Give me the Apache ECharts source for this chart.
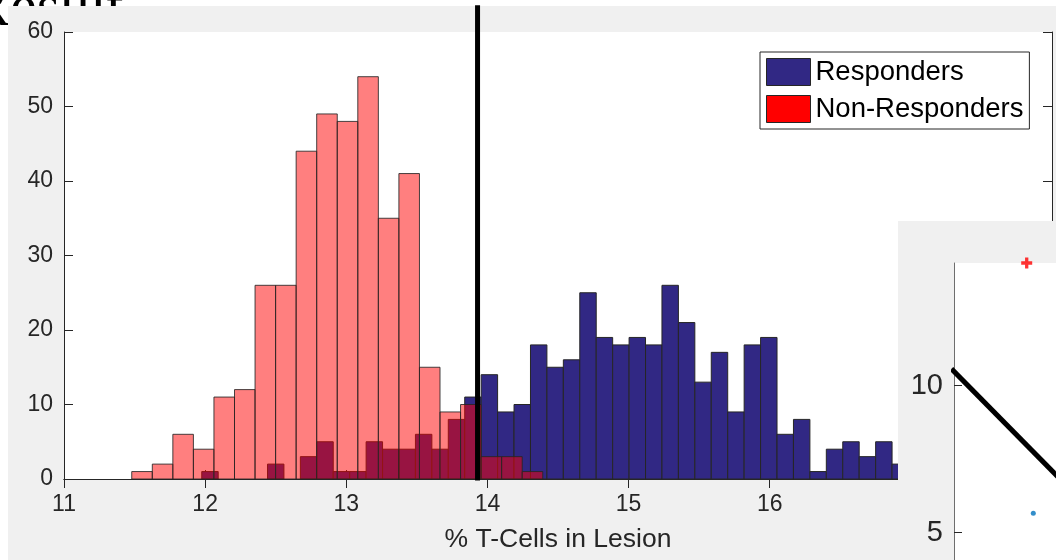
<!DOCTYPE html>
<html><head><meta charset="utf-8">
<script src="https://cdn.jsdelivr.net/npm/echarts@6/dist/echarts.min.js"></script>
<style>html,body{margin:0;padding:0;background:#fff}#c{width:1056px;height:560px}</style>
</head><body><div id="c"></div>
<script>
// ---------------- data ----------------
const seriesNames = ['Responders', 'Non-Responders'];
const xLabel = '% T-Cells in Lesion';
const xTicks = [11, 12, 13, 14, 15, 16, 17, 18];
const yTicks = [0, 10, 20, 30, 40, 50, 60];
// Non-Responders histogram (bin start, bin width, counts)
const redBinStart = 11.48;
const redBinWidth = 0.1456;
const redCounts = [1, 2, 6, 4, 11, 12, 26, 26, 44, 49, 48, 54, 35, 41, 15, 9, 10, 3, 3, 1];
// Responders histogram
const blueBinStart = 11.976;
const blueBinWidth = 0.11645;
const blueCounts = [1, 0, 0, 0, 2, 0, 3, 5, 1, 1, 5, 4, 4, 6, 4, 8, 11,
  14, 9, 10, 18, 15, 16, 25, 19, 18, 19, 18, 26, 21, 13, 17, 9, 18, 19, 6, 8, 1, 4, 5, 3, 5, 2];
const thresholdX = 13.93;
const thresholdY = [-0.2, 63.6];
// inset (partially visible second figure)
const insetYTicks = [5, 10];
const insetXRange = [0, 1.59375];
const insetYRange = [0, 14.17];
const insetLineX = [-0.04, 1.65];
const insetLineY = [10.57, 6.84];
const insetRedPoint = [1.136, 14.17];
const insetBluePoint = [1.239, 5.66];
const titleText = 'Result';

// ---------------- build ----------------
const FONT = "'Liberation Sans', Arial, Helvetica, sans-serif";
const AX = '#262626';
const BLUE = '#312884';
function bins(start, w, counts) {
  return counts.map((c, i) => [start + i * w, start + (i + 1) * w, c]);
}
function histRender(fill, stroke) {
  return function (params, api) {
    const x0 = api.value(0), x1 = api.value(1), c = api.value(2);
    if (!c) return null;
    const p0 = api.coord([x0, c]);
    const p1 = api.coord([x1, 0]);
    return {
      type: 'rect',
      shape: { x: p0[0], y: p0[1], width: p1[0] - p0[0], height: p1[1] - p0[1] },
      style: { fill: fill, stroke: stroke, lineWidth: 1 }
    };
  };
}
const mainAxisCommon = {
  type: 'value', gridIndex: 0,
  axisLine: { show: true, lineStyle: { color: AX, width: 1 } },
  axisTick: { show: true, inside: true, length: 9, lineStyle: { color: AX, width: 1 } },
  splitLine: { show: false }
};
const chart = echarts.init(document.getElementById('c'), null, { renderer: 'canvas' });
const option = {
  backgroundColor: '#ffffff',
  animation: false,
  textStyle: { fontFamily: FONT },
  graphic: [
    { type: 'text', z: -20, style: { x: -30, y: 9, text: titleText, font: "60px 'Liberation Serif', 'Times New Roman', serif", fill: '#000', verticalAlign: 'middle' } },
    { type: 'rect', z: -10, shape: { x: 8, y: 6, width: 1048, height: 554 }, style: { fill: '#f0f0f0' } },
    { type: 'rect', z: 10, shape: { x: 898, y: 221, width: 158, height: 339 }, style: { fill: '#f0f0f0' } }
  ],
  grid: [
    { left: 64, top: 32, right: 4, bottom: 81, show: true, backgroundColor: '#ffffff', borderWidth: 0, outerBoundsMode: 'none' },
    { left: 954, top: 263, width: 102, height: 416.6, show: true, backgroundColor: '#ffffff', borderWidth: 0, z: 20, outerBoundsMode: 'none' }
  ],
  legend: {
    orient: 'vertical', left: 760, top: 52, padding: [6, 6, 6, 6], itemGap: 9,
    itemWidth: 44, itemHeight: 27, backgroundColor: '#ffffff', borderColor: AX, borderWidth: 1,
    borderRadius: 0, textStyle: { fontSize: 27.5, color: '#000', fontFamily: FONT, padding: [4, 0, 0, 0] },
    data: [
      { name: seriesNames[0], icon: 'rect', itemStyle: { color: BLUE, borderColor: AX, borderWidth: 1 } },
      { name: seriesNames[1], icon: 'rect', itemStyle: { color: '#ff0000', borderColor: AX, borderWidth: 1 } }
    ]
  },
  xAxis: [
    Object.assign({}, mainAxisCommon, {
      position: 'bottom', min: xTicks[0], max: xTicks[xTicks.length - 1], interval: 1,
      axisLabel: { fontSize: 23, color: AX, margin: 14, fontFamily: FONT },
      name: xLabel, nameLocation: 'middle', nameGap: 47,
      nameTextStyle: { fontSize: 26.5, color: AX, fontFamily: FONT }
    }),
    Object.assign({}, mainAxisCommon, {
      position: 'top', min: xTicks[0], max: xTicks[xTicks.length - 1], interval: 1,
      axisLabel: { show: false }
    }),
    {
      type: 'value', gridIndex: 1, position: 'top', min: insetXRange[0], max: insetXRange[1], interval: 1, z: 21,
      axisLine: { show: true, lineStyle: { color: '#6e6e6e', width: 1 } },
      axisTick: { show: true, inside: true, length: 8, lineStyle: { color: AX } },
      axisLabel: { show: false }, splitLine: { show: false }
    }
  ],
  yAxis: [
    Object.assign({}, mainAxisCommon, {
      position: 'left', min: yTicks[0], max: yTicks[yTicks.length - 1], interval: 10,
      axisLabel: { fontSize: 23, color: AX, margin: 11, fontFamily: FONT }
    }),
    Object.assign({}, mainAxisCommon, {
      position: 'right', min: yTicks[0], max: yTicks[yTicks.length - 1], interval: 10,
      axisLabel: { show: false }
    }),
    {
      type: 'value', gridIndex: 1, position: 'left', min: insetYRange[0], max: insetYRange[1], interval: 5, z: 21,
      axisLine: { show: true, lineStyle: { color: '#6e6e6e', width: 1 } },
      axisTick: { show: true, inside: true, length: 8, lineStyle: { color: AX } },
      axisLabel: { fontSize: 29, color: AX, margin: 11, fontFamily: FONT, showMaxLabel: false,
        formatter: v => (insetYTicks.indexOf(v) >= 0 ? String(v) : '') },
      splitLine: { show: false }
    }
  ],
  series: [
    {
      name: seriesNames[0], type: 'custom', xAxisIndex: 0, yAxisIndex: 0, z: 2,
      itemStyle: { color: BLUE },
      renderItem: histRender(BLUE, AX),
      encode: { x: [0, 1], y: 2 },
      data: bins(blueBinStart, blueBinWidth, blueCounts)
    },
    {
      name: seriesNames[1], type: 'custom', xAxisIndex: 0, yAxisIndex: 0, z: 3,
      itemStyle: { color: '#ff0000' },
      renderItem: histRender('rgba(255,0,0,0.5)', 'rgba(38,38,38,0.85)'),
      encode: { x: [0, 1], y: 2 },
      data: bins(redBinStart, redBinWidth, redCounts)
    },
    {
      name: 'threshold', type: 'line', xAxisIndex: 0, yAxisIndex: 0, z: 5, clip: false,
      symbol: 'none', lineStyle: { color: '#000', width: 5, cap: 'butt' },
      data: thresholdY.map(y => [thresholdX, y])
    },
    {
      name: 'insetLine', type: 'line', xAxisIndex: 2, yAxisIndex: 2, z: 22, clip: false,
      symbol: 'none', lineStyle: { color: '#000', width: 5 },
      data: insetLineX.map((x, i) => [x, insetLineY[i]])
    },
    {
      name: 'insetRed', type: 'scatter', xAxisIndex: 2, yAxisIndex: 2, z: 23, clip: false,
      symbol: 'path://M0,3.5 L10,3.5 L10,6.5 L0,6.5 Z M3.5,0 L6.5,0 L6.5,10 L3.5,10 Z', symbolSize: 11,
      itemStyle: { color: '#ff0000' },
      data: [insetRedPoint]
    },
    {
      name: 'insetBlue', type: 'scatter', xAxisIndex: 2, yAxisIndex: 2, z: 23, clip: false,
      symbol: 'circle', symbolSize: 5,
      itemStyle: { color: '#0072bd' },
      data: [insetBluePoint]
    }
  ]
};
chart.setOption(option);
</script>
</body></html>
